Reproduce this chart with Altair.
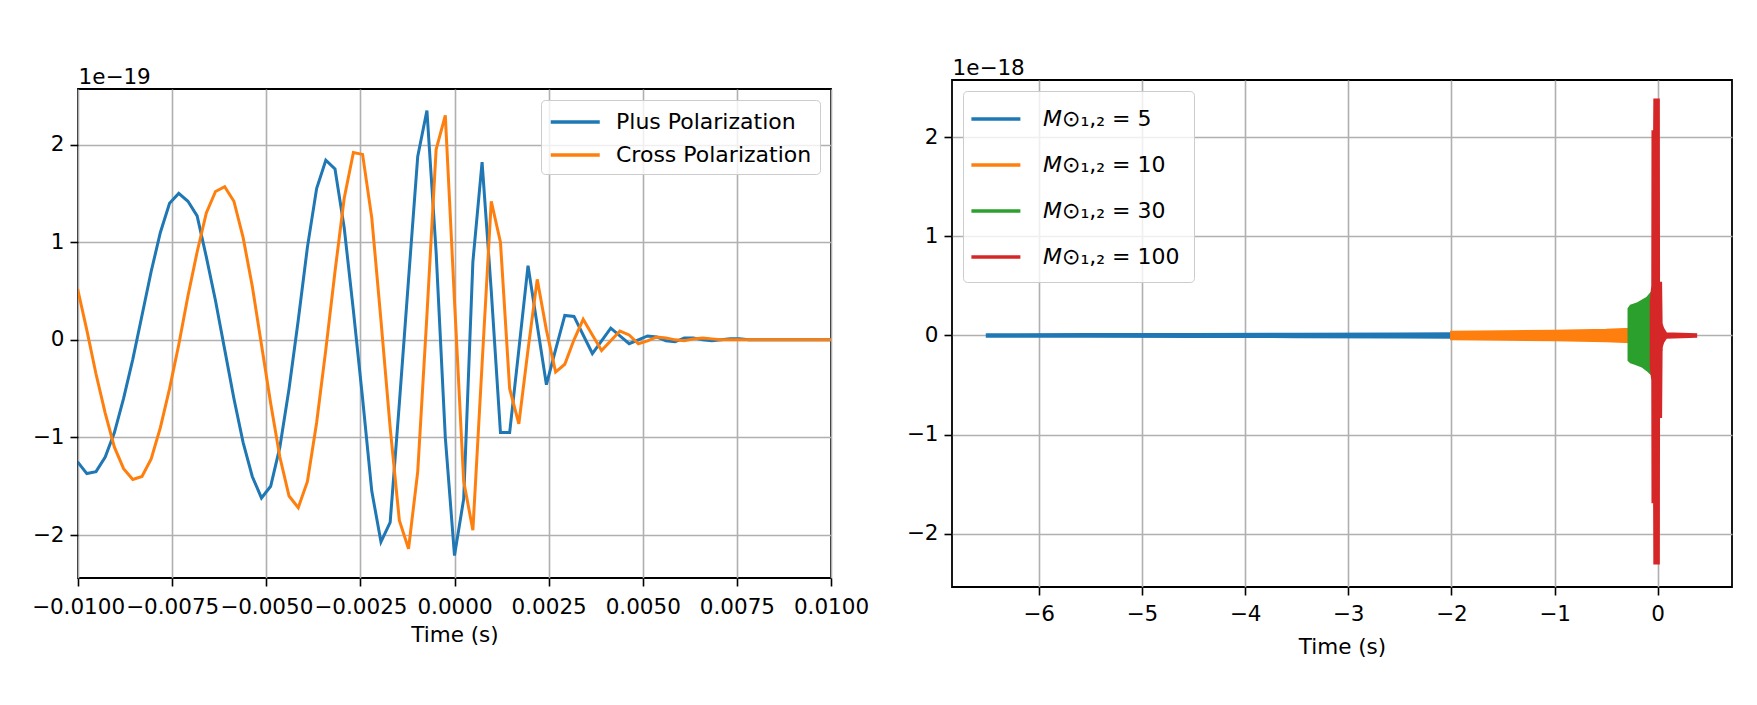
import altair as alt
import pandas as pd

FONT = "DejaVu Sans"
FS = 21.5
LFS = 22

# ---------------- left panel: single waveform (units of 1e-19) ----------------
TIME_STEP = 1.0 / 4096
SAMPLE_INDEX = list(range(-41, 42))
PLUS = [-1.25, -1.37, -1.35, -1.20, -0.95, -0.60, -0.20, 0.25, 0.70, 1.10,
        1.40, 1.50, 1.42, 1.27, 0.85, 0.40, -0.10, -0.60, -1.05, -1.40,
        -1.62, -1.50, -1.10, -0.50, 0.20, 0.95, 1.55, 1.84, 1.75, 1.15,
        0.30, -0.60, -1.55, -2.07, -1.87, -0.65, 0.62, 1.88, 2.35, 0.90,
        -1.00, -2.21, -1.63, 0.80, 1.82, 0.50, -0.95, -0.95, -0.10, 0.76,
        0.15, -0.46, -0.10, 0.25, 0.24, 0.05, -0.14, -0.01, 0.12, 0.04,
        -0.04, 0.00, 0.04, 0.03, -0.01, -0.02, 0.02, 0.02, 0.00, -0.01,
        0.00, 0.01, 0.01, 0.00, 0.00, 0.00, 0.00, 0.00, 0.00, 0.00,
        0.00, 0.00, 0.00]
CROSS = [0.52, 0.10, -0.35, -0.75, -1.10, -1.32, -1.43, -1.40, -1.22, -0.90,
         -0.50, -0.05, 0.45, 0.90, 1.30, 1.52, 1.57, 1.42, 1.05, 0.55,
         -0.05, -0.65, -1.20, -1.60, -1.72, -1.45, -0.85, -0.10, 0.70, 1.45,
         1.92, 1.90, 1.25, 0.20, -0.90, -1.85, -2.14, -1.35, 0.25, 1.95,
         2.30, 0.40, -1.45, -1.95, -0.25, 1.42, 1.00, -0.50, -0.86, -0.10,
         0.62, 0.10, -0.33, -0.25, 0.00, 0.21, 0.05, -0.11, -0.01, 0.09,
         0.05, -0.04, -0.01, 0.03, 0.02, 0.00, -0.01, 0.01, 0.02, 0.01,
         0.00, 0.00, 0.00, 0.00, 0.00, 0.00, 0.00, 0.00, 0.00, 0.00,
         0.00, 0.00, 0.00]
POL_NAMES = ["Plus Polarization", "Cross Polarization"]
POL_COLORS = ["#1f77b4", "#ff7f0e"]
LEFT_X_TICKS = [-0.01, -0.0075, -0.005, -0.0025, 0.0, 0.0025, 0.005, 0.0075, 0.01]
LEFT_Y_TICKS = [-2, -1, 0, 1, 2]
LEFT_X_DOMAIN = [-0.01, 0.01]
LEFT_Y_DOMAIN = [-2.44, 2.57]

# ---------------- right panel: waveform envelopes (units of 1e-18) ----------------
MASS_NAMES = ["𝘔⊙₁,₂ = 5", "𝘔⊙₁,₂ = 10", "𝘔⊙₁,₂ = 30", "𝘔⊙₁,₂ = 100"]
MASS_COLORS = ["#1f77b4", "#ff7f0e", "#2ca02c", "#d62728"]
M5_T = [-6.5, -5.5, -4.5, -3.5, -2.5, -2.0]
M5_UP = [0.010, 0.011, 0.012, 0.014, 0.017, 0.020]
M5_LO = [-0.010, -0.011, -0.012, -0.014, -0.017, -0.020]
M10_T = [-2.0, -1.5, -1.0, -0.5, -0.27]
M10_UP = [0.035, 0.040, 0.045, 0.055, 0.065]
M10_LO = [-0.035, -0.040, -0.045, -0.055, -0.065]
M30_T = [-0.28, -0.26, -0.20, -0.15, -0.10, -0.06, -0.03, 0.0]
M30_UP = [0.27, 0.30, 0.32, 0.35, 0.38, 0.43, 0.47, 0.30]
M30_LO = [-0.25, -0.27, -0.29, -0.31, -0.35, -0.39, -0.42, -0.30]
M100_T = [-0.065, -0.050, -0.048, -0.032, -0.030, 0.008, 0.010, 0.030, 0.035, 0.050, 0.080, 0.370]
M100_UP = [0.35, 0.50, 2.06, 2.06, 2.38, 2.38, 0.53, 0.53, 0.12, 0.07, 0.02, 0.01]
M100_LO = [-0.32, -0.45, -1.68, -1.68, -2.30, -2.30, -0.82, -0.82, -0.12, -0.07, -0.02, -0.01]
RIGHT_X_TICKS = [-6, -5, -4, -3, -2, -1, 0]
RIGHT_Y_TICKS = [-2, -1, 0, 1, 2]
RIGHT_X_DOMAIN = [-6.84, 0.72]
RIGHT_Y_DOMAIN = [-2.54, 2.58]

# ---------------- tables ----------------
left_rows = []
for name, vals in zip(POL_NAMES, [PLUS, CROSS]):
    for k, v in zip(SAMPLE_INDEX, vals):
        left_rows.append({"t": k * TIME_STEP, "h": v, "pol": name})
left_df = pd.DataFrame(left_rows)

right_rows = []
for i, (name, ts, ups, los) in enumerate(zip(
        MASS_NAMES,
        [M5_T, M10_T, M30_T, M100_T],
        [M5_UP, M10_UP, M30_UP, M100_UP],
        [M5_LO, M10_LO, M30_LO, M100_LO])):
    for t, u, l in zip(ts, ups, los):
        right_rows.append({"t": t, "up": u, "lo": l, "mid": (u + l) / 2,
                           "mass": name, "order": i})
right_df = pd.DataFrame(right_rows)

axis_common = dict(
    grid=True, gridColor="#b0b0b0", gridWidth=1.6, domain=False,
    ticks=True, tickColor="black", tickWidth=1.6, tickSize=8,
    labelFont=FONT, labelFontSize=FS, labelColor="black",
    titleFont=FONT, titleFontSize=FS, titleFontWeight="normal", titleColor="black",
)

legend_common = dict(
    title=None, fillColor="rgba(255,255,255,0.8)", strokeColor="#cccccc",
    cornerRadius=4, symbolSize=600,
    symbolStrokeWidth=3.3, labelFont=FONT, labelFontSize=LFS, labelColor="black",
    labelLimit=0,
)

left = alt.Chart(left_df).mark_line(strokeWidth=3.0, clip=True).encode(
    x=alt.X("t:Q", scale=alt.Scale(domain=LEFT_X_DOMAIN, nice=False, zero=False),
            axis=alt.Axis(values=LEFT_X_TICKS, format=".4f", title="Time (s)",
                          titlePadding=7, labelPadding=10, labelFlush=False, **axis_common)),
    y=alt.Y("h:Q", scale=alt.Scale(domain=LEFT_Y_DOMAIN, nice=False, zero=False),
            axis=alt.Axis(values=LEFT_Y_TICKS, format="d", title="1e−19",
                          titleAngle=0, titleAlign="left", titleBaseline="alphabetic",
                          titleX=0, titleY=-6, labelPadding=6, **axis_common)),
    color=alt.Color("pol:N", scale=alt.Scale(domain=POL_NAMES, range=POL_COLORS),
                    legend=alt.Legend(orient="top-right", offset=11, padding=8,
                                      symbolType="M-1,0H3", labelOffset=39, rowPadding=8,
                                      **legend_common)),
    detail="pol:N",
).properties(width=753, height=489)

rx = alt.X("t:Q", scale=alt.Scale(domain=RIGHT_X_DOMAIN, nice=False, zero=False),
           axis=alt.Axis(values=RIGHT_X_TICKS, format="d", title="Time (s)",
                         titlePadding=12, labelPadding=8, **axis_common))
ry_axis = alt.Axis(values=RIGHT_Y_TICKS, format="d", title="1e−18",
                   titleAngle=0, titleAlign="left", titleBaseline="alphabetic",
                   titleX=0, titleY=-6, labelPadding=6, **axis_common)
ry_scale = alt.Scale(domain=RIGHT_Y_DOMAIN, nice=False, zero=False)
mass_scale = alt.Scale(domain=MASS_NAMES, range=MASS_COLORS)

centre = alt.Chart(right_df).mark_line(strokeWidth=3.0, clip=True).encode(
    x=rx,
    y=alt.Y("mid:Q", scale=ry_scale, axis=ry_axis),
    color=alt.Color("mass:N", scale=mass_scale,
                    legend=alt.Legend(orient="none", legendX=11, legendY=11, padding=14,
                                      symbolType="M-1.6,0H2.4", labelOffset=38, rowPadding=21,
                                      **legend_common)),
    detail="mass:N",
)

bands = alt.Chart(right_df).mark_area(strokeWidth=2.6, opacity=1, clip=True).encode(
    x=rx,
    y=alt.Y("up:Q", scale=ry_scale, axis=ry_axis),
    y2="lo:Q",
    color=alt.Color("mass:N", scale=mass_scale),
    stroke=alt.Stroke("mass:N", scale=mass_scale, legend=None),
    order="order:Q",
)

right = alt.layer(centre, bands).properties(width=780, height=507)

chart = alt.hconcat(left, right, spacing=121, center=True, bounds="flush").resolve_scale(
    color="independent"
).resolve_legend(color="independent").properties(
    padding={"left": 22, "top": 48, "right": 5, "bottom": 5},
    background="white",
).configure_view(stroke="black", strokeWidth=1.8)

chart.save("out.html", embed_options={"renderer": "svg", "actions": False})
